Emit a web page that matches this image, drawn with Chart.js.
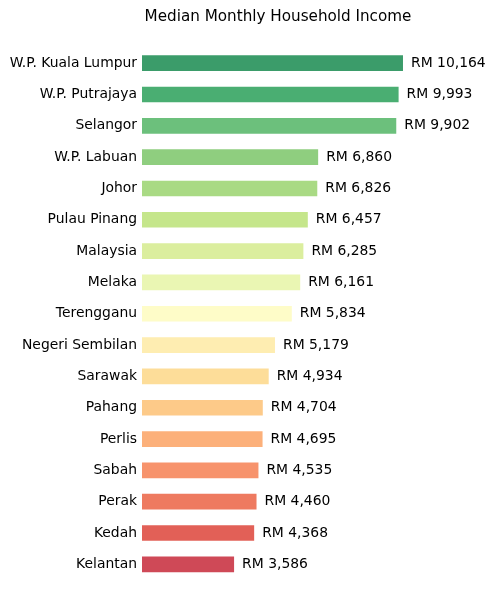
<!DOCTYPE html>
<html>
<head>
<meta charset="utf-8">
<script src="https://cdn.jsdelivr.net/npm/chart.js@4"></script>
<style>
  html, body { margin: 0; padding: 0; background: #fff; overflow: hidden; }
  canvas { display: block; }
</style>
</head>
<body>
<canvas id="incomeChart" width="495" height="590"></canvas>
<script>
// states, sorted high to low
var states = ["W.P. Kuala Lumpur", "W.P. Putrajaya", "Selangor", "W.P. Labuan", "Johor",
  "Pulau Pinang", "Malaysia", "Melaka", "Terengganu", "Negeri Sembilan", "Sarawak",
  "Pahang", "Perlis", "Sabah", "Perak", "Kedah", "Kelantan"];
var income = [10164, 9993, 9902, 6860, 6826, 6457, 6285, 6161, 5834, 5179, 4934,
  4704, 4695, 4535, 4460, 4368, 3586];
var barColors = ["#3b9c6a", "#4aae72", "#6cc07c", "#8fce7f", "#a9da84", "#c5e68b",
  "#dbee9e", "#eaf6b3", "#fefcc8", "#feedb1", "#fddd99", "#fdca89", "#fcb07a",
  "#f7936c", "#ee7a60", "#e26057", "#cf4957"];
var chartTitle = "Median Monthly Household Income";

var FONT = "'DejaVu Sans', sans-serif";

// title centred over the bar area (not whole canvas), plus "RM x,xxx" after each bar
var textBits = {
  id: 'textBits',
  afterDatasetsDraw: function(chart) {
    var ctx = chart.ctx;
    var meta = chart.getDatasetMeta(0);
    var x0 = chart.scales.x.getPixelForValue(0);
    ctx.save();
    ctx.fillStyle = "#000";
    ctx.textBaseline = "middle";
    ctx.font = "15.2px " + FONT;
    ctx.textAlign = "center";
    ctx.fillText(chartTitle, (x0 + 414) / 2, 17);
    ctx.font = "13.9px " + FONT;
    ctx.textAlign = "left";
    meta.data.forEach(function(bar, i) {
      ctx.fillText("RM " + income[i].toLocaleString("en-US"), bar.x + 8, bar.y);
    });
    ctx.restore();
  }
};

var ctx = document.getElementById("incomeChart");
new Chart(ctx, {
  type: 'bar',
  data: {
    labels: states,
    datasets: [{
      data: income,
      backgroundColor: barColors,
      borderWidth: 0,
      barPercentage: 0.5,
      categoryPercentage: 1.0
    }]
  },
  options: {
    indexAxis: 'y',
    responsive: false,
    animation: false,
    layout: { padding: { top: 47.5, right: 12, bottom: 10, left: 0 } },
    plugins: {
      legend: { display: false },
      tooltip: { enabled: false },
      title: { display: false }
    },
    scales: {
      x: { display: false, min: 0, max: 13280 },
      y: {
        grid: { display: false, drawTicks: false },
        border: { display: false },
        ticks: { color: "#000", padding: 5, font: { family: FONT, size: 13.9 } },
        afterFit: function(scale) {
          scale.width = 142;
          // label overhang would otherwise override the layout padding
          scale.paddingTop = 0;
          scale.paddingBottom = 0;
        }
      }
    }
  },
  plugins: [textBits]
});
</script>
</body>
</html>
